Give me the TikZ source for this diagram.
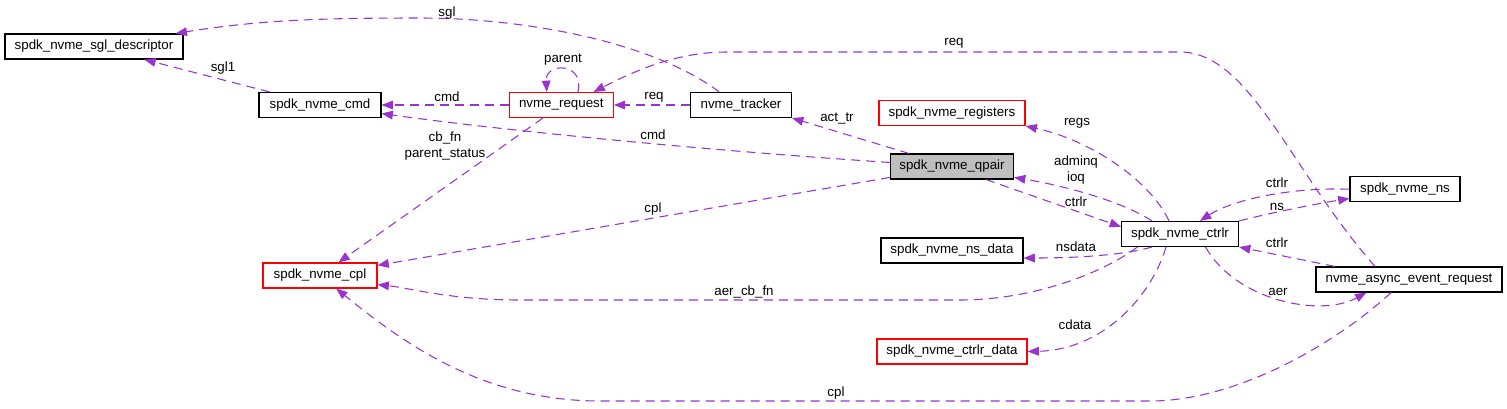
\documentclass[tikz,border=0pt]{standalone}
\usepackage{fontspec}
\setmainfont{Liberation Sans}
\usepackage{xcolor}
\usepackage{tikz}
\usetikzlibrary{arrows.meta}
\definecolor{orchid}{HTML}{9A32CD}
\definecolor{grey75}{HTML}{BFBFBF}
\definecolor{undoc}{HTML}{FF0000}
\tikzset{
  cls/.style={draw=black,fill=white,line width=0.8pt,minimum height=18.75pt,inner sep=0pt,font=\fontsize{10}{12}\selectfont,text=black},
  nodoc/.style={cls,draw=undoc},
  focus/.style={cls,fill=grey75},
  uses/.style={draw=orchid,line width=0.8pt,dash pattern=on 6.75pt off 4.5pt,-{Triangle[length=8.5pt,width=6.5pt]}},
  elbl/.style={font=\fontsize{10}{12}\selectfont,text=black,inner sep=0pt,align=center},
}

\begin{document}
\begin{tikzpicture}[x=0.75pt,y=-0.75pt]
  \useasboundingbox (0,0) rectangle (1507,408);
  % classes
  \node[cls,minimum width=133.5pt] (sgl) at (94,46.5) {spdk\_nvme\_sgl\_descriptor};
  \node[cls,minimum width=91.5pt] (cmd) at (320,105) {spdk\_nvme\_cmd};
  \node[nodoc,minimum width=78pt] (req) at (561.3,105) {nvme\_request};
  \node[cls,minimum width=75.75pt] (trk) at (741,105) {nvme\_tracker};
  \node[nodoc,minimum width=109.5pt] (reg) at (952,113) {spdk\_nvme\_registers};
  \node[focus,minimum width=92.25pt] (qp) at (952,166.5) {spdk\_nvme\_qpair};
  \node[cls,minimum width=82.5pt] (ns) at (1405,189.2) {spdk\_nvme\_ns};
  \node[cls,minimum width=87.75pt] (ctrl) at (1180,234) {spdk\_nvme\_ctrlr};
  \node[cls,minimum width=106.5pt] (nsd) at (952,250.5) {spdk\_nvme\_ns\_data};
  \node[nodoc,minimum width=85.5pt] (cpl) at (320,275.5) {spdk\_nvme\_cpl};
  \node[cls,minimum width=139.5pt] (asy) at (1409,279.5) {nvme\_async\_event\_request};
  \node[nodoc,minimum width=112.5pt] (cdat) at (952,351.5) {spdk\_nvme\_ctrlr\_data};

  % usage edges
  \draw[uses] (trk.149) .. controls (650,40) and (520,18) .. (420,18) .. controls (320,18) and (260,20) .. (sgl);
  \draw[uses] (cmd) -- (sgl);
  \draw[uses] (req) -- (cmd);
  \draw[uses] (req.38) .. controls (585,62) and (545,62) .. (req.138);
  \draw[uses] (trk) -- (req);
  \draw[uses] (asy.159) .. controls (1290,170) and (1250,52) .. (1180,52) -- (727,52) .. controls (680,52) and (640,68) .. (req.22);
  \draw[uses] (qp) .. controls (700,150) and (500,130) .. (cmd);
  \draw[uses] (req) -- (cpl);
  \draw[uses] (qp) -- (trk.south east);
  \draw[uses] (qp.190) -- (cpl.10);
  \draw[uses] (ctrl.130) .. controls (1150,180) and (1090,140) .. (reg.south east);
  \draw[uses] (ctrl.155) .. controls (1120,200) and (1060,185) .. (qp.-10);
  \draw[uses] (qp.-21) -- (ctrl.173);
  \draw[uses] (ns.west) .. controls (1290,187) and (1232,200) .. (ctrl);
  \draw[uses] (ctrl.north east) .. controls (1270,213) and (1310,205) .. (ns);
  \draw[uses] (ctrl.-155) .. controls (1120,256) and (1070,258) .. (nsd.-6);
  \draw[uses] (ctrl.-163) .. controls (1100,275) and (1030,300) .. (960,300) -- (520,300) .. controls (450,300) and (410,288) .. (cpl.-9);
  \draw[uses] (ctrl.-137) .. controls (1150,300) and (1100,350) .. (cdat.east);
  \draw[uses] (asy.170) -- (ctrl.south east);
  \draw[uses] (ctrl.-27) .. controls (1235,300) and (1320,318) .. (asy.-163);
  \draw[uses] (asy.-144) .. controls (1340,340) and (1240,401) .. (1150,401) -- (600,401) .. controls (480,401) and (400,340) .. (cpl);

  % edge labels
  \node[elbl] (l-sgl) at (447,13) {sgl};
  \node[elbl] (l-sgl1) at (223,68) {sgl1};
  \node[elbl] (l-cmd1) at (447,97) {cmd};
  \node[elbl] (l-parent) at (563,60) {parent};
  \node[elbl] (l-req1) at (654,97) {req};
  \node[elbl] (l-req2) at (954,43) {req};
  \node[elbl] (l-acttr) at (837,119) {act\_tr};
  \node[elbl] (l-cmd2) at (653,135) {cmd};
  \node[elbl] (l-cbfn) at (445,146) {cb\_fn\\parent\_status};
  \node[elbl] (l-cpl1) at (653,209) {cpl};
  \node[elbl] (l-regs) at (1077,123) {regs};
  \node[elbl] (l-adminq) at (1076,170) {adminq\\ioq};
  \node[elbl] (l-ctrlr1) at (1076,202) {ctrlr};
  \node[elbl] (l-ctrlr2) at (1277,183) {ctrlr};
  \node[elbl] (l-ns) at (1277,207) {ns};
  \node[elbl] (l-nsdata) at (1076,247) {nsdata};
  \node[elbl] (l-ctrlr3) at (1277,243) {ctrlr};
  \node[elbl] (l-aercb) at (744,292) {aer\_cb\_fn};
  \node[elbl] (l-cdata) at (1075,325) {cdata};
  \node[elbl] (l-aer) at (1278,292) {aer};
  \node[elbl] (l-cpl2) at (836,393) {cpl};
\end{tikzpicture}
\end{document}
